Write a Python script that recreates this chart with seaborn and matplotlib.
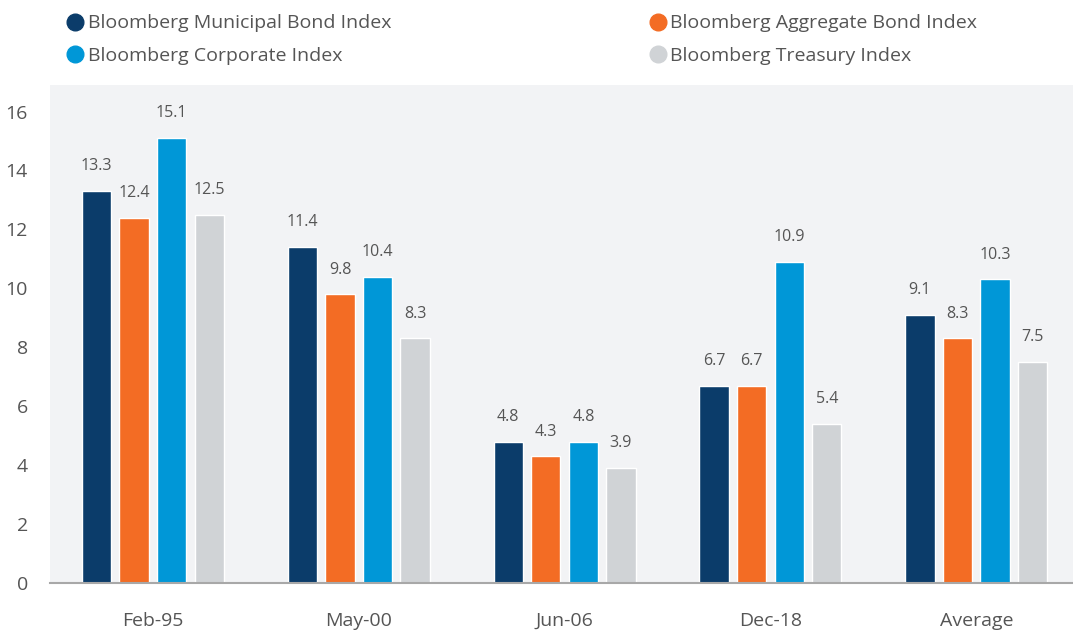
import pandas as pd
import seaborn as sns
import matplotlib.pyplot as plt
from matplotlib.lines import Line2D

periods = ["Feb-95", "May-00", "Jun-06", "Dec-18", "Average"]
muni = [13.3, 11.4, 4.8, 6.7, 9.1]
aggregate = [12.4, 9.8, 4.3, 6.7, 8.3]
corporate = [15.1, 10.4, 4.8, 10.9, 10.3]
treasury = [12.5, 8.3, 3.9, 5.4, 7.5]

series = ["Bloomberg Municipal Bond Index", "Bloomberg Aggregate Bond Index",
          "Bloomberg Corporate Index", "Bloomberg Treasury Index"]
colors = ["#0b3c6a", "#f36c24", "#0097d7", "#d0d3d6"]

df = pd.DataFrame({"period": periods * 4,
                   "index": [s for s in series for _ in periods],
                   "value": muni + aggregate + corporate + treasury})

sns.set_style("white")
plt.rcParams["font.family"] = ["Open Sans", "DejaVu Sans"]
text_col = "#555555"

fig = plt.figure(figsize=(10.73, 6.32), dpi=100)
ax = fig.add_axes([50 / 1073, 49 / 632, 1 - 50 / 1073, (583 - 85) / 632])
ax.set_facecolor("#f2f3f5")

sns.barplot(data=df, x="period", y="value", hue="index", hue_order=series,
            palette=colors, width=0.73, gap=0.22, legend=False, ax=ax,
            saturation=1)

for c in ax.containers:
    ax.bar_label(c, fmt="%.1f", padding=12, fontsize=11.5, color=text_col)

ax.set_ylim(0, 16.9)
ax.set_xlim(-0.5, 4.47)
ax.set_yticks(range(0, 17, 2))
ax.set_xlabel("")
ax.set_ylabel("")
ax.tick_params(axis="y", length=0, pad=16, labelsize=14, labelcolor=text_col)
ax.tick_params(axis="x", length=0, pad=21, labelsize=14, labelcolor=text_col)
for s in ["top", "right", "left"]:
    ax.spines[s].set_visible(False)
ax.spines["bottom"].set_color("#a8a8a8")
ax.spines["bottom"].set_linewidth(1.5)

order = [0, 2, 1, 3]
handles = [Line2D([], [], marker="o", linestyle="", markersize=12,
                  color=colors[i]) for i in order]
labels = [series[i] for i in order]
fig.legend(handles, labels, ncol=2, loc="upper left",
           bbox_to_anchor=(48 / 1073, 1.005), frameon=False, fontsize=14,
           labelcolor=text_col, handletextpad=0.15, columnspacing=13.2,
           labelspacing=0.75, handlelength=1.0)

plt.savefig("out.png", dpi=100)
